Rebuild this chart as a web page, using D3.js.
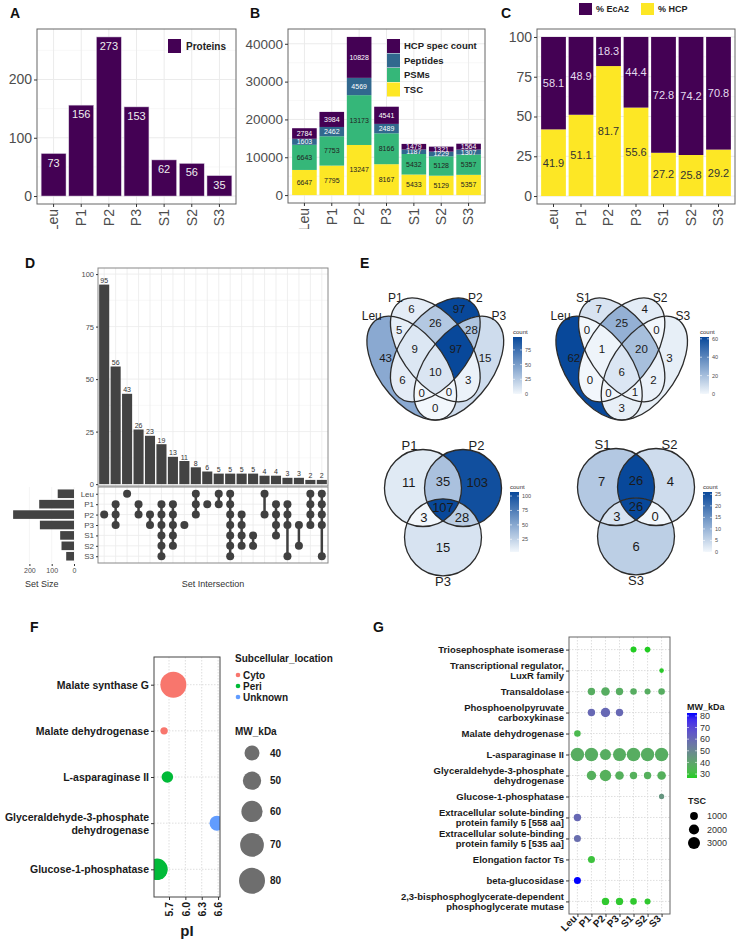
<!DOCTYPE html>
<html>
<head>
<meta charset="utf-8">
<script src="https://cdn.jsdelivr.net/npm/d3@7"></script>
<style>
  body { margin: 0; background: #fff; }
  svg text { font-family: "Liberation Sans", Arial, sans-serif; }
</style>
</head>
<body>
<svg id="fig" width="736" height="942"></svg>
<script>
// ---------- data ----------
const samples = ["Leu", "P1", "P2", "P3", "S1", "S2", "S3"];
const proteinCounts = [73, 156, 273, 153, 62, 56, 35];

const stackKeys = ["TSC", "PSMs", "Peptides", "HCP spec count"];
const tscValues = [6647, 7795, 13247, 8167, 5433, 5129, 5357];
const psmValues = [6643, 7753, 13173, 8166, 5432, 5128, 5357];
const peptideValues = [1603, 2462, 4569, 2489, 1187, 1229, 1307];
const hcpSpecValues = [2784, 3984, 10828, 4541, 1479, 1321, 1564];

const pctHCP = [41.9, 51.1, 81.7, 55.6, 27.2, 25.8, 29.2];
const pctEcA2 = [58.1, 48.9, 18.3, 44.4, 72.8, 74.2, 70.8];

const intersectionSets = [
  ["P2"], ["P1", "P2", "P3"], ["Leu"], ["P1", "P2"], ["P2", "P3"],
  ["P1", "P2", "P3", "S1", "S2", "S3"], ["P1", "P2", "P3", "S1", "S2"], ["P3"],
  ["Leu", "P1", "P2"], ["P1"], ["Leu", "P1"], ["Leu", "P1", "P2", "P3", "S1", "S2", "S3"],
  ["P2", "P3", "S1", "S2"], ["S1", "S2"], ["Leu", "P2"], ["P1", "P2", "P3", "S1"],
  ["P1", "P2", "P3", "S3"], ["P3", "S2"], ["Leu", "P1", "P2", "P3"], ["Leu", "P1", "P2", "P3", "S3"]
];
const intersectionCounts = [95, 56, 43, 26, 23, 19, 13, 11, 8, 6, 5, 5, 5, 5, 4, 4, 3, 3, 2, 2];

const quadRegions = ["A", "B", "C", "D", "AB", "AC", "AD", "BC", "BD", "CD", "ABC", "ABD", "ACD", "BCD", "ABCD"];
const quadSetsP = ["Leu", "P1", "P2", "P3"];
const quadCountsP = [43, 6, 97, 15, 5, 6, 0, 26, 3, 28, 9, 0, 0, 97, 10];
const quadSetsS = ["Leu", "S1", "S2", "S3"];
const quadCountsS = [62, 7, 4, 3, 0, 0, 3, 25, 2, 0, 1, 1, 0, 20, 6];
const triRegions = ["A", "B", "C", "AB", "AC", "BC", "ABC"];
const triSetsP = ["P1", "P2", "P3"];
const triCountsP = [11, 103, 15, 35, 3, 28, 107];
const triSetsS = ["S1", "S2", "S3"];
const triCountsS = [7, 4, 6, 26, 3, 0, 26];
const legendTicksQuadP = [0, 25, 50, 75];
const legendTicksQuadS = [0, 20, 40, 60];
const legendTicksTriP = [25, 50, 75, 100];
const legendTicksTriS = [0, 5, 10, 15, 20, 25];

const fProteins = ["Malate synthase G", "Malate dehydrogenase", "L-asparaginase II",
  "Glyceraldehyde-3-phosphate\ndehydrogenase", "Glucose-1-phosphatase"];
const fLocation = ["Cyto", "Cyto", "Peri", "Unknown", "Peri"];
const fPI = [5.78, 5.61, 5.67, 6.58, 5.48];
const fMW = [80, 25, 32, 40, 61];
const locations = ["Cyto", "Peri", "Unknown"];
const locationColors = ["#F8766D", "#00BA38", "#619CFF"];
const piTicks = [5.7, 6.0, 6.3, 6.6];
const mwBreaks = [40, 50, 60, 70, 80];

const gProteins = ["Triosephosphate isomerase", "Transcriptional regulator,\nLuxR family", "Transaldolase",
  "Phosphoenolpyruvate\ncarboxykinase", "Malate dehydrogenase", "L-asparaginase II",
  "Glyceraldehyde-3-phosphate\ndehydrogenase", "Glucose-1-phosphatase",
  "Extracellular solute-binding\nprotein family 5 [558 aa]", "Extracellular solute-binding\nprotein family 5 [535 aa]",
  "Elongation factor Ts", "beta-glucosidase", "2,3-bisphosphoglycerate-dependent\nphosphoglycerate mutase"];
const gMW = [26.6, 27.5, 37, 60, 33, 37, 36, 45, 60, 58, 30, 82.5, 28];
const gTSC = [
  [null, null, null, null, 395, 300, null],
  [null, null, null, null, null, null, 40],
  [null, 843, 1302, 843, 575, 395, 575],
  [null, 843, 1646, 843, null, null, null],
  [575, null, null, null, null, null, null],
  [3862, 3812, 2424, 3626, 3955, 3806, 3793],
  [null, 1646, 2640, 1302, 843, 843, 1302],
  [null, null, null, null, null, null, 200],
  [843, null, null, null, null, null, null],
  [705, null, null, null, null, null, null],
  [null, 705, null, null, null, null, null],
  [705, null, null, null, null, null, null],
  [null, null, 843, 843, 575, 395, null]
];
const mwTicks = [30, 40, 50, 60, 70, 80];
const tscBreaks = [1000, 2000, 3000];

// ---------- helpers ----------
const svg = d3.select("#fig");
const defs = svg.append("defs");
const gray = "#4d4d4d";

function panelLabel(t, x, y) {
  svg.append("text").attr("x", x).attr("y", y).attr("font-size", 14)
    .attr("font-weight", "bold").attr("fill", "#111").text(t);
}
function hLines(g, ys, x0, x1, color, w, dash) {
  g.append("g").selectAll("line").data(ys).join("line")
    .attr("x1", x0).attr("x2", x1).attr("y1", d => d).attr("y2", d => d)
    .attr("stroke", color).attr("stroke-width", w).attr("stroke-dasharray", dash || null);
}
function vLines(g, xs, y0, y1, color, w, dash) {
  g.append("g").selectAll("line").data(xs).join("line")
    .attr("y1", y0).attr("y2", y1).attr("x1", d => d).attr("x2", d => d)
    .attr("stroke", color).attr("stroke-width", w).attr("stroke-dasharray", dash || null);
}
function border(g, x0, y0, x1, y1, color) {
  g.append("rect").attr("x", x0).attr("y", y0).attr("width", x1 - x0).attr("height", y1 - y0)
    .attr("fill", "none").attr("stroke", color || "#555").attr("stroke-width", 1);
}
function leftAxis(g, scale, x, values, size, o = {}) {
  const ax = d3.axisLeft(scale).tickSize(o.tick ?? 3).tickPadding(2);
  if (values) ax.tickValues(values);
  if (o.format) ax.tickFormat(o.format);
  const a = g.append("g").attr("transform", `translate(${x},0)`).call(ax);
  a.attr("font-size", size).attr("font-family", null);
  a.select(".domain").remove();
  a.selectAll(".tick line").attr("stroke", "#333");
  a.selectAll(".tick text").attr("fill", o.color || gray).attr("font-weight", o.bold ? "bold" : null);
  return a;
}
function bottomAxisRot(g, scale, y, size, angle, o = {}) {
  const ax = d3.axisBottom(scale).tickSize(3).tickPadding(2);
  if (o.values) ax.tickValues(o.values);
  if (o.format) ax.tickFormat(o.format);
  const a = g.append("g").attr("transform", `translate(0,${y})`).call(ax);
  a.attr("font-size", size).attr("font-family", null);
  a.select(".domain").remove();
  a.selectAll(".tick line").attr("stroke", "#333");
  a.selectAll(".tick text").attr("fill", o.color || gray).attr("font-weight", o.bold ? "bold" : null)
    .attr("transform", `rotate(${angle})`).attr("text-anchor", "end")
    .attr("x", -(o.pad ?? 5)).attr("y", 0).attr("dy", "0.35em");
  return a;
}
function bandScale(domain, x0, x1) {
  return d3.scaleBand().domain(domain).range([x0, x1]).paddingInner(0.1).paddingOuter(0.15);
}

// top row clipped at its bottom edge, like the cropped original
defs.append("clipPath").attr("id", "topClip").append("rect").attr("x", 0).attr("y", 0).attr("width", 736).attr("height", 229);
const topRow = svg.append("g").attr("clip-path", "url(#topClip)");

// ---------- A ----------
panelLabel("A", 10, 18);
{
  const g = topRow.append("g");
  const x = bandScale(samples, 37, 236);
  const mx = d3.max(proteinCounts);
  const y = d3.scaleLinear().domain([-0.05 * mx, 1.05 * mx]).range([204, 29]);
  hLines(g, [50, 150, 250].map(y), 37, 236, "#f3f3f3", 0.6);
  hLines(g, [0, 100, 200].map(y), 37, 236, "#ebebeb", 1);
  vLines(g, samples.map(s => x(s) + x.bandwidth() / 2), 29, 204, "#ebebeb", 1);
  g.selectAll("rect.bar").data(proteinCounts).join("rect").attr("class", "bar")
    .attr("x", (d, i) => x(samples[i])).attr("y", d => y(d))
    .attr("width", x.bandwidth()).attr("height", d => y(0) - y(d))
    .attr("fill", "#440154").attr("stroke", "#d8d0e0").attr("stroke-width", 0.5);
  g.selectAll("text.val").data(proteinCounts).join("text").attr("class", "val")
    .attr("x", (d, i) => x(samples[i]) + x.bandwidth() / 2).attr("y", d => y(d) + 13)
    .attr("text-anchor", "middle").attr("font-size", 11).attr("fill", "#eee").text(d => d);
  border(g, 37, 29, 236, 204, "#666");
  leftAxis(g, y, 37, [0, 100, 200], 14);
  bottomAxisRot(g, x, 204, 14, -90);
  g.append("rect").attr("x", 168).attr("y", 39).attr("width", 13).attr("height", 14).attr("fill", "#440154");
  g.append("text").attr("x", 186).attr("y", 50).attr("font-size", 10).attr("font-weight", "bold").attr("fill", "#222").text("Proteins");
}

// ---------- B ----------
panelLabel("B", 250, 18);
{
  const g = topRow.append("g");
  const rows = samples.map((s, i) => ({
    sample: s, "TSC": tscValues[i], "PSMs": psmValues[i],
    "Peptides": peptideValues[i], "HCP spec count": hcpSpecValues[i]
  }));
  const colors = d3.scaleOrdinal().domain(stackKeys).range(["#FDE725", "#35B779", "#31688E", "#440154"]);
  const textCol = d3.scaleOrdinal().domain(stackKeys).range(["#222", "#222", "#fff", "#fff"]);
  const series = d3.stack().keys(stackKeys)(rows);
  const x = bandScale(samples, 288, 485);
  const mx = d3.max(series[series.length - 1], d => d[1]);
  const y = d3.scaleLinear().domain([-0.05 * mx, 1.05 * mx]).range([203, 29]);
  hLines(g, [5000, 15000, 25000, 35000].map(y), 288, 485, "#f3f3f3", 0.6);
  hLines(g, [0, 10000, 20000, 30000, 40000].map(y), 288, 485, "#ebebeb", 1);
  vLines(g, samples.map(s => x(s) + x.bandwidth() / 2), 29, 203, "#ebebeb", 1);
  series.forEach(ser => {
    g.append("g").selectAll("rect").data(ser).join("rect")
      .attr("x", d => x(d.data.sample)).attr("y", d => y(d[1]))
      .attr("width", x.bandwidth()).attr("height", d => y(d[0]) - y(d[1]))
      .attr("fill", colors(ser.key));
    g.append("g").selectAll("text").data(ser).join("text")
      .attr("x", d => x(d.data.sample) + x.bandwidth() / 2).attr("y", d => y((d[0] + d[1]) / 2))
      .attr("dy", "0.35em").attr("text-anchor", "middle").attr("font-size", 7)
      .attr("fill", textCol(ser.key)).text(d => d.data[ser.key]);
  });
  border(g, 288, 29, 485, 203, "#666");
  leftAxis(g, y, 288, [0, 10000, 20000, 30000, 40000], 13.5, { format: d3.format("d") });
  bottomAxisRot(g, x, 203, 14, -90);
  const leg = stackKeys.slice().reverse();
  g.append("g").selectAll("rect").data(leg).join("rect")
    .attr("x", 387).attr("y", (d, i) => 39 + i * 14.5).attr("width", 13).attr("height", 14)
    .attr("fill", d => colors(d));
  g.append("g").selectAll("text").data(leg).join("text")
    .attr("x", 404).attr("y", (d, i) => 46 + i * 14.5).attr("dy", "0.35em")
    .attr("font-size", 9.5).attr("font-weight", "bold").attr("fill", "#222").text(d => d);
}

// ---------- C ----------
panelLabel("C", 501, 18);
{
  const g = topRow.append("g");
  const keys = ["% HCP", "% EcA2"];
  const rows = samples.map((s, i) => ({ sample: s, "% HCP": pctHCP[i], "% EcA2": pctEcA2[i] }));
  const colors = d3.scaleOrdinal().domain(keys).range(["#FDE725", "#440154"]);
  const textCol = d3.scaleOrdinal().domain(keys).range(["#333", "#e4dcef"]);
  const series = d3.stack().keys(keys)(rows);
  const x = bandScale(samples, 537, 735);
  const y = d3.scaleLinear().domain([-5, 105]).range([204, 29]);
  hLines(g, [12.5, 37.5, 62.5, 87.5].map(y), 537, 735, "#f3f3f3", 0.6);
  hLines(g, [0, 25, 50, 75, 100].map(y), 537, 735, "#ebebeb", 1);
  series.forEach(ser => {
    g.append("g").selectAll("rect").data(ser).join("rect")
      .attr("x", d => x(d.data.sample)).attr("y", d => y(d[1]))
      .attr("width", x.bandwidth()).attr("height", d => y(d[0]) - y(d[1]))
      .attr("fill", colors(ser.key));
    g.append("g").selectAll("text").data(ser).join("text")
      .attr("x", d => x(d.data.sample) + x.bandwidth() / 2).attr("y", d => y((d[0] + d[1]) / 2))
      .attr("dy", "0.35em").attr("text-anchor", "middle").attr("font-size", 11)
      .attr("fill", textCol(ser.key)).text(d => d.data[ser.key].toFixed(1));
  });
  border(g, 537, 29, 735, 204, "#666");
  leftAxis(g, y, 537, [0, 25, 50, 75, 100], 14);
  bottomAxisRot(g, x, 204, 14, -90);
  const leg = ["% EcA2", "% HCP"];
  g.append("g").selectAll("rect").data(leg).join("rect")
    .attr("x", (d, i) => 579 + i * 62).attr("y", 3).attr("width", 13).attr("height", 12)
    .attr("fill", d => colors(d));
  g.append("g").selectAll("text").data(leg).join("text")
    .attr("x", (d, i) => 596 + i * 62).attr("y", 9).attr("dy", "0.35em")
    .attr("font-size", 9).attr("font-weight", "bold").attr("fill", "#222").text(d => d);
}

// ---------- D ----------
panelLabel("D", 25, 268);
{
  const g = svg.append("g");
  const n = intersectionCounts.length;
  const x = d3.scaleBand().domain(d3.range(n)).range([98, 328]).paddingInner(0.12).paddingOuter(0.1);
  const cx = i => x(i) + x.bandwidth() / 2;
  const y = d3.scaleLinear().domain([-0.9, 102.9]).range([486, 268]);
  hLines(g, [12.5, 37.5, 62.5, 87.5].map(y), 98, 328, "#f3f3f3", 0.6);
  hLines(g, [0, 25, 50, 75, 100].map(y), 98, 328, "#ebebeb", 0.8);
  vLines(g, d3.range(n).map(cx), 268, 486, "#ebebeb", 0.8);
  g.append("g").selectAll("rect").data(intersectionCounts).join("rect")
    .attr("x", (d, i) => x(i)).attr("y", d => y(d)).attr("width", x.bandwidth())
    .attr("height", d => y(0) - y(d)).attr("fill", "#434343");
  g.append("g").selectAll("text").data(intersectionCounts).join("text")
    .attr("x", (d, i) => cx(i)).attr("y", d => y(d) - 1.5).attr("text-anchor", "middle")
    .attr("font-size", 7).attr("fill", "#333").text(d => d);
  border(g, 98, 268, 328, 486, "#888");
  leftAxis(g, y, 98, [0, 25, 50, 75, 100], 7.5, { tick: 2 });

  // matrix
  const rowY = d3.scalePoint().domain(samples).range([487, 563]).padding(0.65);
  hLines(g, samples.map(rowY), 98, 328, "#ebebeb", 0.8);
  vLines(g, d3.range(n).map(cx), 487, 563, "#ebebeb", 0.8);
  border(g, 98, 487, 328, 563, "#888");
  leftAxis(g, rowY, 98, null, 8, { tick: 2 });
  intersectionSets.forEach((sets, i) => {
    const ys = sets.map(rowY);
    g.append("line").attr("x1", cx(i)).attr("x2", cx(i))
      .attr("y1", d3.min(ys)).attr("y2", d3.max(ys)).attr("stroke", "#404040").attr("stroke-width", 2.5);
    g.append("g").selectAll("circle").data(ys).join("circle")
      .attr("cx", cx(i)).attr("cy", d => d).attr("r", 4).attr("fill", "#404040");
  });

  // set sizes
  const sx = d3.scaleLinear().domain([0, 287]).range([74, 10]);
  vLines(g, [0, 100, 200].map(sx), 487, 563, "#f2f2f2", 0.8);
  g.append("g").selectAll("rect").data(proteinCounts).join("rect")
    .attr("x", d => sx(d)).attr("y", (d, i) => rowY(samples[i]) - 4.3)
    .attr("width", d => sx(0) - sx(d)).attr("height", 8.6).attr("fill", "#434343");
  const sa = g.append("g").attr("transform", "translate(0,564)")
    .call(d3.axisBottom(sx).tickValues([0, 100, 200]).tickSize(2).tickPadding(2));
  sa.attr("font-size", 7).attr("font-family", null);
  sa.select(".domain").remove();
  sa.selectAll(".tick line").attr("stroke", "#333");
  sa.selectAll(".tick text").attr("fill", gray);
  g.append("text").attr("x", 25).attr("y", 587).attr("font-size", 9).attr("fill", "#333").text("Set Size");
  g.append("text").attr("x", 213).attr("y", 587).attr("text-anchor", "middle").attr("font-size", 9)
    .attr("fill", "#333").text("Set Intersection");
}

// ---------- E ----------
panelLabel("E", 360, 268);
const vennLow = "#F2F7FC", vennHigh = "#08489A";
let vennId = 0;

function drawVenn(o) {
  const id = "v" + (vennId++);
  const g = svg.append("g");
  const ux = d3.scaleLinear().domain([0, 1]).range([o.px0, o.px0 + o.sx]);
  const uy = d3.scaleLinear().domain([0, 1]).range([o.py0, o.py0 - o.sy]);
  const color = d3.scaleLinear().domain(d3.extent(o.counts)).range([vennLow, vennHigh]);
  const letters = "ABCD";
  const inside = (e, px, py) => {
    const t = e.rot * Math.PI / 180, dx = px - e.cx, dy = py - e.cy;
    const p = dx * Math.cos(t) + dy * Math.sin(t), q = -dx * Math.sin(t) + dy * Math.cos(t);
    return p * p / (e.rx * e.rx) + q * q / (e.ry * e.ry) <= 1;
  };
  const addShape = (sel, e) => sel.append("ellipse").attr("cx", e.cx).attr("cy", e.cy)
    .attr("rx", e.rx).attr("ry", e.ry).attr("transform", `rotate(${e.rot},${e.cx},${e.cy})`);

  o.shapes.forEach((e, k) => addShape(defs.append("clipPath").attr("id", `${id}c${k}`), e));
  const [b0, b1] = o.bounds;
  const inner = g.append("g").attr("transform", `translate(${o.px0},${o.py0}) scale(${o.sx},${-o.sy})`);
  o.regions.forEach((code, r) => {
    const excl = o.shapes.map((e, k) => k).filter(k => !code.includes(letters[k]));
    const m = defs.append("mask").attr("id", `${id}m${r}`).attr("maskUnits", "userSpaceOnUse")
      .attr("x", b0).attr("y", b0).attr("width", b1 - b0).attr("height", b1 - b0);
    m.append("rect").attr("x", b0).attr("y", b0).attr("width", b1 - b0).attr("height", b1 - b0).attr("fill", "#fff");
    excl.forEach(k => addShape(m, o.shapes[k]).attr("fill", "#000"));
    let node = inner.append("g").attr("mask", `url(#${id}m${r})`);
    code.split("").forEach(L => { node = node.append("g").attr("clip-path", `url(#${id}c${letters.indexOf(L)})`); });
    node.append("rect").attr("x", b0).attr("y", b0).attr("width", b1 - b0).attr("height", b1 - b0)
      .attr("fill", color(o.counts[r]));
  });
  o.shapes.forEach(e => addShape(inner, e).attr("fill", "none").attr("stroke", "#2b2b2b")
    .attr("stroke-width", 1.3).attr("vector-effect", "non-scaling-stroke"));

  // region centroids by sampling
  const acc = {};
  const step = (b1 - b0) / 320;
  for (let px = b0; px <= b1; px += step) {
    for (let py = b0; py <= b1; py += step) {
      let code = "";
      o.shapes.forEach((e, k) => { if (inside(e, px, py)) code += letters[k]; });
      if (!code) continue;
      const a = acc[code] || (acc[code] = { x: 0, y: 0, n: 0 });
      a.x += px; a.y += py; a.n++;
    }
  }
  g.append("g").selectAll("text").data(o.regions).join("text")
    .attr("x", c => ux(acc[c].x / acc[c].n)).attr("y", c => uy(acc[c].y / acc[c].n))
    .attr("dy", "0.35em").attr("text-anchor", "middle").attr("font-size", o.numSize)
    .attr("fill", "#1a1a1a").text((c, r) => o.counts[r]);
  g.append("g").selectAll("text").data(o.names).join("text")
    .attr("x", (d, k) => ux(o.labelPos[k][0])).attr("y", (d, k) => uy(o.labelPos[k][1]))
    .attr("text-anchor", "middle").attr("font-size", o.nameSize).attr("fill", "#222").text(d => d);

  // colour bar
  const ext = d3.extent(o.counts);
  const ly = d3.scaleLinear().domain(ext).range([o.leg.y1, o.leg.y0]);
  const grad = defs.append("linearGradient").attr("id", `${id}g`)
    .attr("x1", 0).attr("y1", 1).attr("x2", 0).attr("y2", 0);
  d3.range(0, 1.01, 0.1).forEach(t => grad.append("stop").attr("offset", t)
    .attr("stop-color", color(ext[0] + t * (ext[1] - ext[0]))));
  g.append("rect").attr("x", o.leg.x).attr("y", o.leg.y0).attr("width", 9)
    .attr("height", o.leg.y1 - o.leg.y0).attr("fill", `url(#${id}g)`);
  g.append("g").selectAll("line").data(o.legTicks).join("line")
    .attr("x1", o.leg.x).attr("x2", o.leg.x + 9).attr("y1", d => ly(d)).attr("y2", d => ly(d))
    .attr("stroke", "#fff").attr("stroke-width", 0.6).attr("stroke-dasharray", "2,5");
  g.append("g").selectAll("text").data(o.legTicks).join("text")
    .attr("x", o.leg.x + 12).attr("y", d => ly(d)).attr("dy", "0.35em")
    .attr("font-size", 5.5).attr("fill", gray).text(d => d);
  g.append("text").attr("x", o.leg.x).attr("y", o.leg.y0 - 3).attr("font-size", 6)
    .attr("fill", "#333").text("count");
}

const ellA = 0.35, ellB = 0.2;
const quadShapes = [
  { cx: 0.35, cy: 0.47, rx: ellA, ry: ellB, rot: -45 },
  { cx: 0.50, cy: 0.57, rx: ellA, ry: ellB, rot: -45 },
  { cx: 0.50, cy: 0.57, rx: ellA, ry: ellB, rot: 45 },
  { cx: 0.65, cy: 0.47, rx: ellA, ry: ellB, rot: 45 }
];
// set names sit just past the upper tip of each ellipse
const quadLabelPos = quadShapes.map(e => {
  const t = e.rot * Math.PI / 180;
  let dx = Math.cos(t), dy = Math.sin(t);
  if (dy < 0) { dx = -dx; dy = -dy; }
  return [e.cx + dx * (ellA + 0.01), e.cy + dy * (ellA + 0.01) + 0.01];
});
const triShapes = [
  { cx: -0.52, cy: 0, rx: 1, ry: 1, rot: 0 },
  { cx: 0.52, cy: 0, rx: 1, ry: 1, rot: 0 },
  { cx: 0, cy: -1.28, rx: 1, ry: 1, rot: 0 }
];
const triLabelPos = [[-0.87, 1.0], [0.87, 1.0], [0, -2.55]];

drawVenn({ shapes: quadShapes, regions: quadRegions, counts: quadCountsP, names: quadSetsP,
  px0: 356.8, sx: 157, py0: 453.6, sy: 182, bounds: [-0.2, 1.2], labelPos: quadLabelPos,
  numSize: 11.5, nameSize: 12, leg: { x: 513, y0: 337, y1: 394 }, legTicks: legendTicksQuadP });
drawVenn({ shapes: quadShapes, regions: quadRegions, counts: quadCountsS, names: quadSetsS,
  px0: 546.2, sx: 151, py0: 453.6, sy: 182, bounds: [-0.2, 1.2], labelPos: quadLabelPos,
  numSize: 11.5, nameSize: 12, leg: { x: 700, y0: 337, y1: 394 }, legTicks: legendTicksQuadS });
drawVenn({ shapes: triShapes, regions: triRegions, counts: triCountsP, names: triSetsP,
  px0: 443, sx: 38.5, py0: 488, sy: 38.5, bounds: [-2.5, 2.5], labelPos: triLabelPos,
  numSize: 13, nameSize: 13, leg: { x: 510, y0: 492, y1: 552 }, legTicks: legendTicksTriP });
drawVenn({ shapes: triShapes, regions: triRegions, counts: triCountsS, names: triSetsS,
  px0: 636, sx: 38.5, py0: 487, sy: 38.5, bounds: [-2.5, 2.5], labelPos: triLabelPos,
  numSize: 13, nameSize: 13, leg: { x: 703, y0: 492, y1: 552 }, legTicks: legendTicksTriS });

// ---------- F ----------
panelLabel("F", 30, 632);
function multiLineLabels(axisG, lh) {
  axisG.selectAll(".tick text").each(function (d) {
    const t = d3.select(this);
    const lines = String(d).split("\n");
    t.text(null);
    lines.forEach((ln, i) => t.append("tspan").attr("x", t.attr("x"))
      .attr("dy", i === 0 ? `${0.35 - (lines.length - 1) * lh / 2}em` : `${lh}em`).text(ln));
  });
}
{
  const g = svg.append("g");
  const X0 = 154, X1 = 220, Y0 = 657, Y1 = 897;
  const y = d3.scalePoint().domain(fProteins).range([Y0, Y1]).padding(0.6);
  const ext = d3.extent(fPI), pad = (ext[1] - ext[0]) * 0.05;
  const x = d3.scaleLinear().domain([ext[0] - pad, ext[1] + pad]).range([X0, X1]);
  const r = d3.scaleRadial().domain(d3.extent(fMW)).range([3.7, 13]);
  const col = d3.scaleOrdinal().domain(locations).range(locationColors);
  vLines(g, piTicks.map(x), Y0, Y1, "#d6d6d6", 0.8, "1.5,1.5");
  hLines(g, fProteins.map(y), X0, X1, "#d6d6d6", 0.8, "1.5,1.5");
  defs.append("clipPath").attr("id", "fClip").append("rect")
    .attr("x", X0).attr("y", Y0).attr("width", X1 - X0).attr("height", Y1 - Y0);
  g.append("g").attr("clip-path", "url(#fClip)").selectAll("circle").data(fProteins).join("circle")
    .attr("cx", (d, i) => x(fPI[i])).attr("cy", d => y(d)).attr("r", (d, i) => r(fMW[i]))
    .attr("fill", (d, i) => col(fLocation[i]));
  border(g, X0, Y0, X1, Y1, "#444");
  const ya = leftAxis(g, y, X0, null, 10.5, { bold: true, color: "#1a1a1a" });
  multiLineLabels(ya, 1.2);
  bottomAxisRot(g, x, Y1, 10.5, -90, { values: piTicks, format: d3.format(".1f"), bold: true, color: "#1a1a1a" });
  g.append("text").attr("x", (X0 + X1) / 2).attr("y", 936).attr("text-anchor", "middle")
    .attr("font-size", 15).attr("font-weight", "bold").attr("fill", "#1a1a1a").text("pI");

  g.append("text").attr("x", 235).attr("y", 662).attr("font-size", 10).attr("font-weight", "bold")
    .attr("fill", "#1a1a1a").text("Subcellular_location");
  locations.forEach((loc, i) => {
    g.append("circle").attr("cx", 238).attr("cy", 675 + i * 11).attr("r", 2.3).attr("fill", col(loc));
    g.append("text").attr("x", 243).attr("y", 675 + i * 11).attr("dy", "0.35em").attr("font-size", 10)
      .attr("font-weight", "bold").attr("fill", "#1a1a1a").text(loc);
  });
  g.append("text").attr("x", 235).attr("y", 735).attr("font-size", 10).attr("font-weight", "bold")
    .attr("fill", "#1a1a1a").text("MW_kDa");
  let cy = 753;
  mwBreaks.forEach((b, i) => {
    if (i > 0) cy += r(mwBreaks[i - 1]) + r(b) + 11;
    g.append("circle").attr("cx", 252).attr("cy", cy).attr("r", r(b)).attr("fill", "#6e6e6e");
    g.append("text").attr("x", 270).attr("y", cy).attr("dy", "0.35em").attr("font-size", 10)
      .attr("font-weight", "bold").attr("fill", "#1a1a1a").text(b);
  });
}

// ---------- G ----------
panelLabel("G", 373, 632);
{
  const g = svg.append("g");
  const X0 = 569, X1 = 670, Y0 = 637, Y1 = 914;
  const x = d3.scalePoint().domain(samples).range([X0, X1]).padding(0.6);
  const y = d3.scalePoint().domain(gProteins).range([Y0, Y1]).padding(0.6);
  const allTSC = gTSC.flat().filter(v => v != null);
  const r = d3.scaleRadial().domain(d3.extent(allTSC)).range([2.3, 6.8]);
  const col = d3.scaleLinear().domain(d3.extent(gMW)).range(["#22CC22", "#0000FF"]).interpolate(d3.interpolateLab);
  vLines(g, samples.map(x), Y0, Y1, "#d6d6d6", 0.8, "1.5,1.5");
  hLines(g, gProteins.map(y), X0, X1, "#d6d6d6", 0.8, "1.5,1.5");
  const pts = [];
  gTSC.forEach((row, i) => row.forEach((v, j) => { if (v != null) pts.push({ p: gProteins[i], s: samples[j], v, mw: gMW[i] }); }));
  g.append("g").selectAll("circle").data(pts).join("circle")
    .attr("cx", d => x(d.s)).attr("cy", d => y(d.p)).attr("r", d => r(d.v)).attr("fill", d => col(d.mw));
  border(g, X0, Y0, X1, Y1, "#666");
  const ya = leftAxis(g, y, X0, null, 9.5, { bold: true, color: "#1a1a1a" });
  multiLineLabels(ya, 1.05);
  bottomAxisRot(g, x, Y1, 10, -45, { bold: true, color: "#1a1a1a", pad: 4 });

  // colour legend
  g.append("text").attr("x", 687).attr("y", 710).attr("font-size", 9).attr("font-weight", "bold")
    .attr("fill", "#1a1a1a").text("MW_kDa");
  const ext = d3.extent(gMW);
  const ly = d3.scaleLinear().domain(ext).range([778, 713]);
  const grad = defs.append("linearGradient").attr("id", "gGrad").attr("x1", 0).attr("y1", 1).attr("x2", 0).attr("y2", 0);
  d3.range(0, 1.01, 0.1).forEach(t => grad.append("stop").attr("offset", t)
    .attr("stop-color", col(ext[0] + t * (ext[1] - ext[0]))));
  g.append("rect").attr("x", 687).attr("y", 713).attr("width", 10).attr("height", 65).attr("fill", "url(#gGrad)");
  g.append("g").selectAll("line").data(mwTicks).join("line")
    .attr("x1", 687).attr("x2", 697).attr("y1", d => ly(d)).attr("y2", d => ly(d))
    .attr("stroke", "#fff").attr("stroke-width", 0.6).attr("stroke-dasharray", "2,6");
  g.append("g").selectAll("text").data(mwTicks).join("text")
    .attr("x", 700).attr("y", d => ly(d)).attr("dy", "0.35em").attr("font-size", 9).attr("fill", "#333").text(d => d);

  // size legend
  g.append("text").attr("x", 688).attr("y", 804).attr("font-size", 9).attr("font-weight", "bold")
    .attr("fill", "#1a1a1a").text("TSC");
  tscBreaks.forEach((b, i) => {
    const cy = 816 + i * 13.5;
    g.append("circle").attr("cx", 694).attr("cy", cy).attr("r", r(b)).attr("fill", "#000");
    g.append("text").attr("x", 707).attr("y", cy).attr("dy", "0.35em").attr("font-size", 9)
      .attr("fill", "#333").text(b);
  });
}
</script>
</body>
</html>
